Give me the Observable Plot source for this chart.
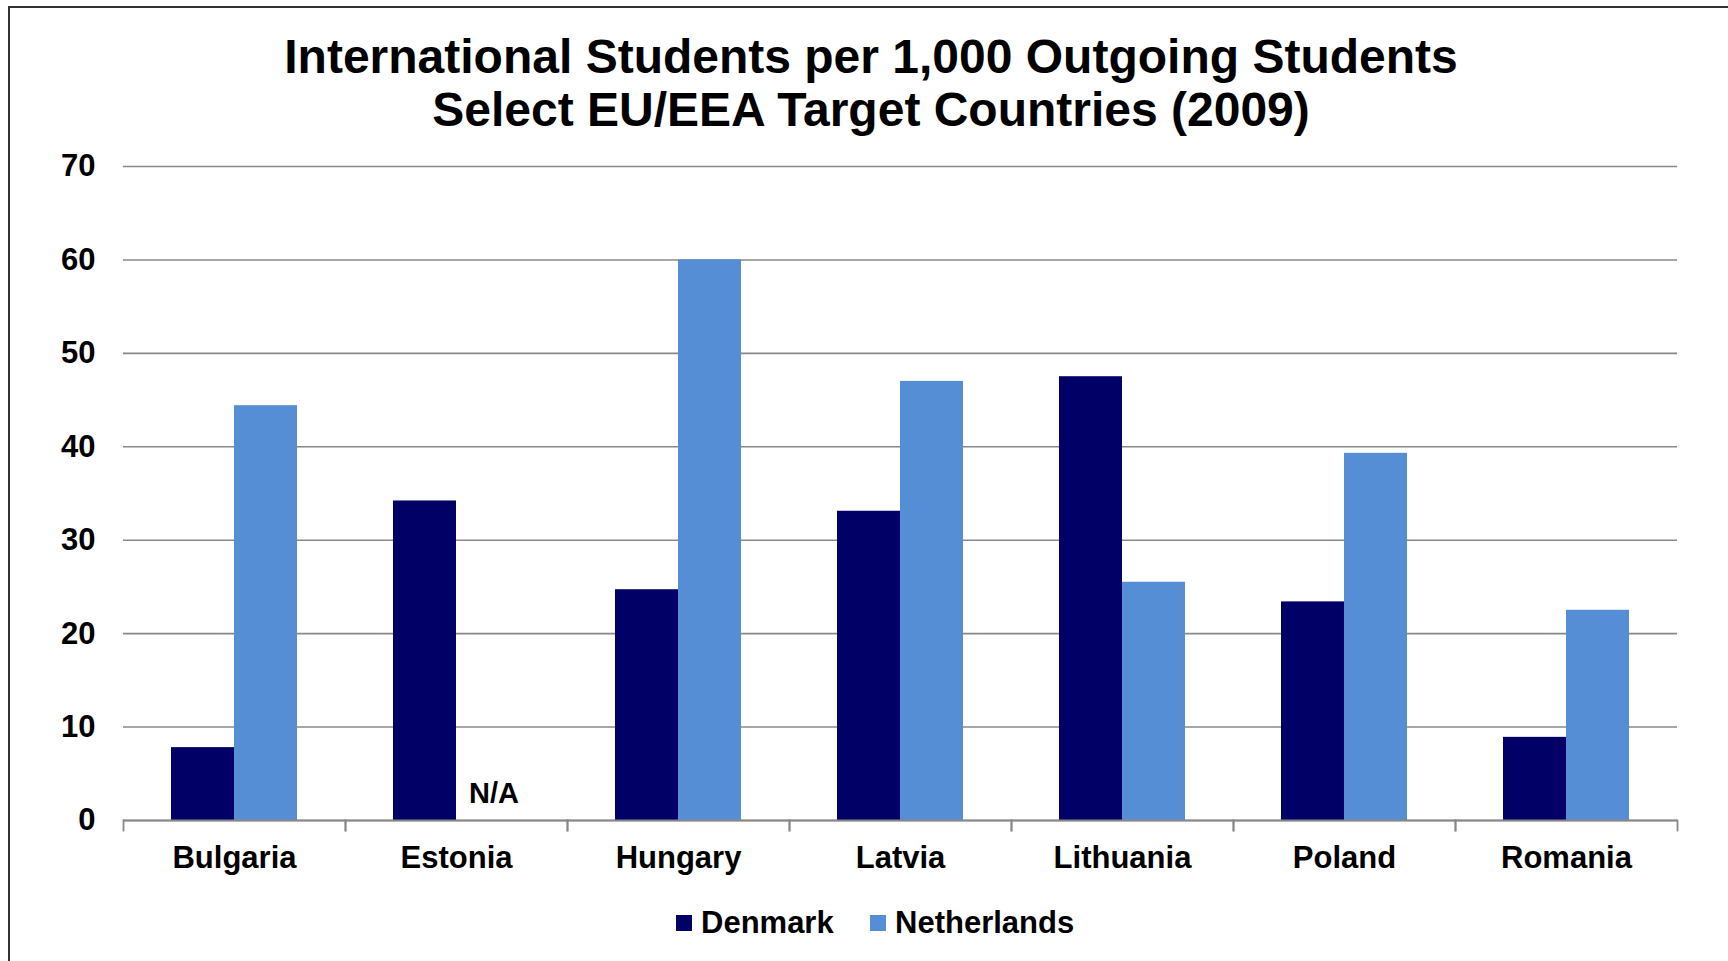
<!DOCTYPE html>
<html>
<head>
<meta charset="utf-8">
<script src="https://cdn.jsdelivr.net/npm/d3@7"></script>
<script src="https://cdn.jsdelivr.net/npm/@observablehq/plot@0.6"></script>
<style>
  html, body { margin: 0; padding: 0; background: #fff; }
  body { width: 1728px; height: 961px; position: relative; overflow: hidden;
         font-family: "Liberation Sans", Arial, sans-serif; font-weight: bold; color: #000; }
  #border { position: absolute; left: 8px; top: 6px; width: 1740px; height: 1000px; z-index: 10;
            border-left: 2px solid #333; border-top: 2px solid #333; pointer-events: none; }
  #title { position: absolute; left: 0; width: 1742px; top: 30px; text-align: center;
           font-size: 48px; line-height: 53px; }
  #chart { position: absolute; left: 0; top: 140px; }
  #legend { position: absolute; top: 905px; left: 0; width: 1728px; height: 36px; font-size: 31px; }
  .item { position: absolute; top: 0; display: flex; align-items: center; height: 36px; }
  .sw { width: 16px; height: 16px; margin-right: 9px; }
</style>
</head>
<body>
<div id="border"></div>
<div id="title">International Students per 1,000 Outgoing Students<br>Select EU/EEA Target Countries (2009)</div>
<div id="chart"></div>
<div id="legend"></div>
<script>
const countries = ["Bulgaria", "Estonia", "Hungary", "Latvia", "Lithuania", "Poland", "Romania"];
const seriesNames = ["Denmark", "Netherlands"];
const denmark = [7.8, 34.2, 24.7, 33.1, 47.5, 23.4, 8.9];
const netherlands = [44.4, null, 60.0, 47.0, 25.5, 39.3, 22.5];
const yTicks = [0, 10, 20, 30, 40, 50, 60, 70];
const colors = ["#000066", "#558ED5"];
const naLabel = "N/A";

const rows = [];
countries.forEach((c, i) => {
  rows.push({country: c, series: seriesNames[0], value: denmark[i]});
  rows.push({country: c, series: seriesNames[1], value: netherlands[i]});
});
const present = rows.filter(d => d.value != null);
const missing = rows.filter(d => d.value == null);

const plotAreaH = 654;
const chart = Plot.plot({
  width: 1728,
  height: 740,
  marginTop: 26,
  marginBottom: 60,
  marginLeft: 121,
  marginRight: 49,
  style: {fontFamily: "'Liberation Sans', Arial, sans-serif", fontWeight: "bold", color: "#000", background: "transparent"},
  fx: {domain: countries, padding: 0, label: null},
  x: {domain: seriesNames, paddingInner: 0, paddingOuter: 0.75, axis: null},
  y: {domain: [0, 70], ticks: yTicks, axis: null},
  color: {domain: seriesNames, range: colors},
  marks: [
    Plot.gridY(yTicks, {stroke: "#888", strokeOpacity: 1, strokeWidth: 1.6}),
    Plot.barY(present, {fx: "country", x: "series", y: "value", fill: "series", inset: 0}),
    Plot.ruleY([0], {stroke: "#888", strokeWidth: 1.8}),
    Plot.frame({anchor: "left", insetTop: plotAreaH, insetBottom: -10, stroke: "#888", strokeWidth: 1.8}),
    Plot.frame({anchor: "right", insetTop: plotAreaH, insetBottom: -10, stroke: "#888", strokeWidth: 1.8}),
    Plot.text(missing, {fx: "country", x: "series", y: 0, text: () => naLabel, dy: -27, dx: 6,
      fontSize: 29, fontWeight: "bold", fill: "#000"}),
    Plot.axisY(yTicks, {anchor: "left", tickSize: 0, tickPadding: 28, fontSize: 31, fontWeight: "bold",
      fill: "#000", stroke: "#888", strokeWidth: 1.8, line: true, label: null, tickFormat: d => String(d)}),
    Plot.axisFx({anchor: "bottom", tickSize: 0, tickPadding: 25, fontSize: 31, fontWeight: "bold",
      fill: "#000", label: null})
  ]
});
document.getElementById("chart").appendChild(chart);

const legend = document.getElementById("legend");
const legendX = [676, 870];
seriesNames.forEach((s, i) => {
  const item = document.createElement("div");
  item.className = "item";
  item.style.left = legendX[i] + "px";
  const sw = document.createElement("div");
  sw.className = "sw";
  sw.style.background = colors[i];
  const t = document.createElement("span");
  t.textContent = s;
  item.appendChild(sw);
  item.appendChild(t);
  legend.appendChild(item);
});
</script>
</body>
</html>
